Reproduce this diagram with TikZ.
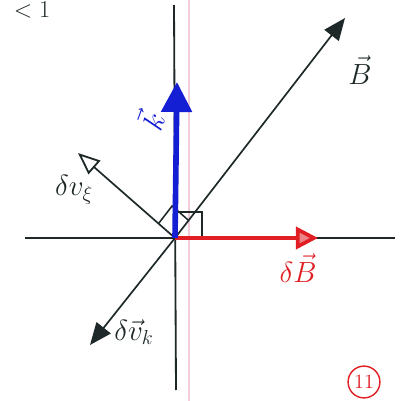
\documentclass[tikz,border=0pt]{standalone}
\usepackage{amsmath}
\usepackage{xcolor}
\definecolor{penblack}{RGB}{30,40,40}
\definecolor{penblue}{RGB}{20,30,210}
\definecolor{penred}{RGB}{225,30,35}
\definecolor{margin}{RGB}{240,205,215}
\usetikzlibrary{arrows.meta,calc}

\begin{document}
\begin{tikzpicture}[
  x=0.025cm, y=-0.025cm,
  axis/.style={draw=penblack, line width=1.3pt},
  vec/.style={draw=penblack, line width=1.2pt,
              -{Triangle[length=0.55cm 0 0, width=0.45cm 0 0]}},
  openvec/.style={draw=penblack, line width=1.2pt,
              -{Triangle[open, length=0.55cm 0 0, width=0.45cm 0 0, line width=1.3pt]}},
  kvec/.style={draw=penblue, line width=4pt,
              -{Triangle[length=0.75cm 0 0, width=0.75cm 0 0]}},
  dbvec/.style={draw=penred, line width=2.6pt,
              -{Triangle[length=0.55cm 0 0, width=0.55cm 0 0, fill=penred!55]}},
  lbl/.style={font=\huge, text=penblack, inner sep=1pt},
  rightmark/.style={draw=penblack, line width=1.1pt},
]
\clip (0,0) rectangle (402,401);
\useasboundingbox (0,0) rectangle (402,401);

% --- points ---
\coordinate (O) at (175,238);
\coordinate (xl) at (25,238);
\coordinate (xr) at (395,238);
\coordinate (yt) at (174,5);
\coordinate (yb) at (176,390);
\coordinate (k) at (177,82);
\coordinate (B) at (345,18);
\coordinate (dB) at (318,238);
\coordinate (dvxi) at (78,153);
\coordinate (dvk) at (90,345);

% --- page margin and axes ---
\draw[margin, line width=1pt] (189,0) -- (189,401);
\draw[axis] (xl) -- (xr);
\draw[axis] (yt) -- (yb);

% --- right-angle marks ---
\coordinate (m1) at ($(O)!0.17!(dvxi)$);
\coordinate (m2) at ($(O)!0.08!(B)$);
\draw[rightmark] (m1) -- ($(m1)+(m2)-(O)$) -- (m2);
\draw[rightmark] (O) ++(0,-26) -- ++(27,0) -- ++(0,26);

% --- vectors ---
\draw[vec] (O) -- (B);
\draw[openvec] (O) -- (dvxi);
\draw[vec] (O) -- (dvk);
\draw[dbvec] (O) -- (dB);
\draw[kvec] (O) -- (k);

% --- labels ---
\node[lbl] (Blbl) at (360,70) {$\vec{B}$};
\node[lbl, text=penred] (dBlbl) at (298,268) {$\delta\vec{B}$};
\node[lbl, text=penblue, rotate=70] (klbl) at (150,120) {$\vec{k}$};
\node[lbl] (dvxilbl) at (74,190) {$\delta v_{\xi}$};
\node[lbl] (dvklbl) at (134,332) {$\delta\vec{v}_{k}$};
\node[lbl, font=\LARGE] (ltone) at (32,10) {$<1$};
\node[draw=penred, text=penred, line width=1pt, circle, font=\Large,
      inner sep=2pt] (page) at (364,382) {11};
\end{tikzpicture}
\end{document}
